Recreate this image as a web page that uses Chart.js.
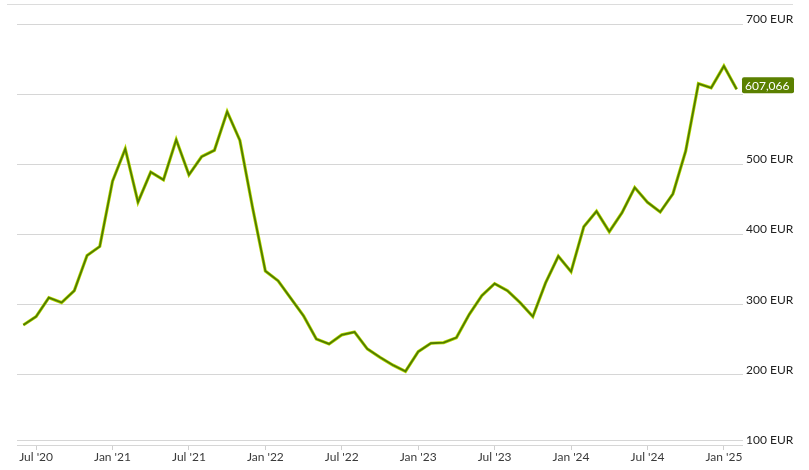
<!DOCTYPE html>
<html><head><meta charset="utf-8">
<script src="https://cdn.jsdelivr.net/npm/chart.js@4"></script>
<style>html,body{margin:0;padding:0;background:#fff}#wrap{width:809px;height:470px;position:relative}</style>
</head><body><div id="wrap"><canvas id="c"></canvas></div>
<script>
const months = [
  'Jun 2020','Jul 2020','Aug 2020','Sep 2020','Oct 2020','Nov 2020','Dec 2020',
  'Jan 2021','Feb 2021','Mar 2021','Apr 2021','May 2021','Jun 2021','Jul 2021','Aug 2021','Sep 2021','Oct 2021','Nov 2021','Dec 2021',
  'Jan 2022','Feb 2022','Mar 2022','Apr 2022','May 2022','Jun 2022','Jul 2022','Aug 2022','Sep 2022','Oct 2022','Nov 2022','Dec 2022',
  'Jan 2023','Feb 2023','Mar 2023','Apr 2023','May 2023','Jun 2023','Jul 2023','Aug 2023','Sep 2023','Oct 2023','Nov 2023','Dec 2023',
  'Jan 2024','Feb 2024','Mar 2024','Apr 2024','May 2024','Jun 2024','Jul 2024','Aug 2024','Sep 2024','Oct 2024','Nov 2024','Dec 2024',
  'Jan 2025','Feb 2025'
];
const values = [
  271, 283, 310, 303, 320, 370, 383,
  476, 522, 446, 489, 478, 535, 485, 511, 520, 575, 534, 438,
  348, 334, 309, 284, 251, 244, 257, 261, 237, 225, 214, 205,
  233, 245, 246, 253, 286, 313, 330, 320, 303, 283, 331, 369,
  347, 411, 433, 404, 431, 467, 446, 432, 458, 519, 615, 609,
  640, 607.066
];
const xTickIndex = [1, 7, 13, 19, 25, 31, 37, 43, 49, 55];
const xTickLabels = ["Jul '20", "Jan '21", "Jul '21", "Jan '22", "Jul '22", "Jan '23", "Jul '23", "Jan '24", "Jul '24", "Jan '25"];
const yTickValues = [100, 200, 300, 400, 500, 600, 700];
const yTickLabels = ['100 EUR', '200 EUR', '300 EUR', '400 EUR', '500 EUR', '600 EUR', '700 EUR'];
const axisLineValue = 106.1;
const lastLabel = '607,066';

const FONT = 'Lato, "Open Sans", sans-serif';

const topLine = {
  id: 'topLine',
  beforeDraw(chart) {
    const ctx = chart.ctx;
    ctx.save();
    ctx.strokeStyle = '#dcdcdc';
    ctx.lineWidth = 1;
    ctx.beginPath();
    ctx.moveTo(7, 4.5);
    ctx.lineTo(793, 4.5);
    ctx.stroke();
    ctx.restore();
  }
};

const badge = {
  id: 'badge',
  afterDatasetsDraw(chart) {
    const ctx = chart.ctx;
    const y = chart.scales.y.getPixelForValue(values[values.length - 1]);
    const x = chart.chartArea.right - 1;
    ctx.save();
    ctx.fillStyle = '#5b8000';
    ctx.beginPath();
    ctx.roundRect(x, y - 12, 52, 16, 2);
    ctx.fill();
    ctx.fillStyle = '#ffffff';
    ctx.font = '12px ' + FONT;
    ctx.textBaseline = 'middle';
    ctx.textAlign = 'left';
    ctx.fillText(lastLabel, x + 3, y - 3.5);
    ctx.restore();
  }
};

new Chart(document.getElementById('c'), {
  type: 'line',
  data: {
    labels: months,
    datasets: [
      {
        data: values.map((v, i) => ({x: i, y: v})),
        borderColor: '#4f7c00',
        borderWidth: 1.8,
        pointRadius: 0,
        tension: 0,
        order: 0
      },
      {
        data: values.map((v, i) => ({x: i, y: v})),
        borderColor: '#b8da00',
        borderWidth: 3.2,
        pointRadius: 0,
        tension: 0,
        order: 1
      }
    ]
  },
  options: {
    responsive: true,
    maintainAspectRatio: false,
    animation: false,
    layout: {padding: {left: 17, top: 24, right: 0, bottom: 0}},
    plugins: {legend: {display: false}, tooltip: {enabled: false}},
    scales: {
      x: {
        type: 'linear',
        min: -0.5,
        max: 56.5,
        afterBuildTicks(scale) { scale.ticks = xTickIndex.map(v => ({value: v})); },
        afterFit(scale) { scale.height = 25; },
        border: {display: false},
        grid: {drawOnChartArea: false, drawTicks: true, tickLength: 5, color: '#cfcfcf'},
        ticks: {
          autoSkip: false, maxRotation: 0, padding: 0,
          color: '#3a3a3a',
          font: {family: FONT, size: 12},
          callback: (v) => { const k = xTickIndex.indexOf(v); return k >= 0 ? xTickLabels[k] : ''; }
        }
      },
      y: {
        type: 'linear',
        position: 'right',
        min: 100,
        max: 700,
        afterBuildTicks(scale) {
          scale.ticks = [{value: axisLineValue}].concat(yTickValues.map(v => ({value: v})));
        },
        afterFit(scale) { scale.width = 66; },
        border: {display: false},
        grid: {drawTicks: false, color: '#d6d6d6', lineWidth: 1},
        ticks: {
          padding: 3,
          color: '#222222',
          font: {family: FONT, size: 12, lineHeight: '10px'},
          callback: (v) => { const k = yTickValues.indexOf(v); return k >= 0 ? [yTickLabels[k], ''] : ''; }
        }
      }
    }
  },
  plugins: [topLine, badge]
});
</script>
</body></html>
